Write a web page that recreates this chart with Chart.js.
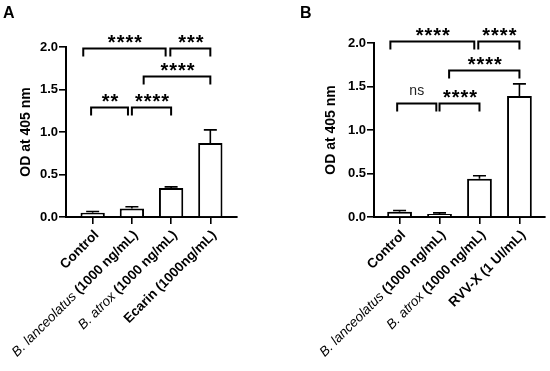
<!DOCTYPE html>
<html>
<head>
<meta charset="utf-8">
<script src="https://cdn.jsdelivr.net/npm/chart.js@4/dist/chart.umd.min.js"></script>
<style>
  html, body { margin: 0; padding: 0; background: #fff; }
  #wrap { width: 550px; height: 371px; display: flex; }
  .panel { width: 275px; height: 371px; }
</style>
</head>
<body>
<div id="wrap">
  <div class="panel"><canvas id="chartA" width="275" height="371"></canvas></div>
  <div class="panel"><canvas id="chartB" width="275" height="371"></canvas></div>
</div>
<script>
const FONT = "'Liberation Sans', Arial, sans-serif";

// panel A
const categoriesA = ["Control", "B. lanceolatus (1000 ng/mL)", "B. atrox (1000 ng/mL)", "Ecarin (1000ng/mL)"];
const meansA = [0.05, 0.10, 0.34, 0.87];
const errorsA = [0.015, 0.02, 0.015, 0.155];
// [from, to, height, text]
const bracketsA = [
  [-0.24, 1.86, 1.985, "****"],
  [1.98, 3.0, 1.985, "***"],
  [1.3, 3.0, 1.66, "****"],
  [-0.04, 0.9, 1.29, "**"],
  [1.0, 2.0, 1.29, "****"],
];

// panel B
const categoriesB = ["Control", "B. lanceolatus (1000 ng/mL)", "B. atrox (1000 ng/mL)", "RVV-X (1 UI/mL)"];
const meansB = [0.06, 0.035, 0.44, 1.39];
const errorsB = [0.015, 0.012, 0.035, 0.14];
const bracketsB = [
  [-0.23, 1.87, 2.02, "****"],
  [1.97, 3.0, 2.02, "****"],
  [1.24, 3.0, 1.685, "****"],
  [-0.06, 0.92, 1.31, "ns"],
  [1.0, 2.0, 1.31, "****"],
];

const yTicks = [0, 0.5, 1, 1.5, 2];

function splitLabel(text) {
  const m = text.match(/^(B\. \w+)(.*)$/);
  if (m) return [[m[1], "italic 13.5px " + FONT], [m[2], "bold 13.5px " + FONT]];
  return [[text, "bold 13.5px " + FONT]];
}

function buildChart(id, cfg) {
  const extras = {
    id: "extras",
    afterDatasetsDraw(chart) {
      const ctx = chart.ctx, xs = chart.scales.x, ys = chart.scales.y;
      ctx.save();
      ctx.strokeStyle = "#000";
      ctx.lineWidth = 1.6;
      cfg.means.forEach((v, i) => {
        const x = xs.getPixelForValue(i);
        const y0 = ys.getPixelForValue(v);
        const y1 = ys.getPixelForValue(v + cfg.errors[i]);
        ctx.beginPath();
        ctx.moveTo(x, y0);
        ctx.lineTo(x, y1);
        ctx.moveTo(x - 6.5, y1);
        ctx.lineTo(x + 6.5, y1);
        ctx.stroke();
      });
      ctx.restore();
    },
    afterDraw(chart) {
      const ctx = chart.ctx, xs = chart.scales.x, ys = chart.scales.y;
      ctx.save();
      ctx.fillStyle = "#000";
      ctx.strokeStyle = "#000";

      // significance brackets
      ctx.lineWidth = 2;
      cfg.brackets.forEach(([a, b, h, txt]) => {
        const x1 = xs.getPixelForValue(a), x2 = xs.getPixelForValue(b);
        const y = Math.round(ys.getPixelForValue(h)) + 0.5;
        ctx.beginPath();
        ctx.moveTo(x1, y + 8);
        ctx.lineTo(x1, y);
        ctx.lineTo(x2, y);
        ctx.lineTo(x2, y + 8);
        ctx.stroke();
        ctx.textAlign = "center";
        ctx.textBaseline = "alphabetic";
        if (txt === "ns") {
          ctx.font = "14px " + FONT;
          ctx.letterSpacing = "0px";
          ctx.fillStyle = "#222";
          ctx.fillText(txt, (x1 + x2) / 2, y - 9);
        } else {
          ctx.font = "bold 20px " + FONT;
          ctx.letterSpacing = "1px";
          ctx.fillStyle = "#000";
          ctx.fillText(txt, (x1 + x2) / 2 + 1, y);
        }
      });
      ctx.letterSpacing = "0px";
      ctx.fillStyle = "#000";

      // rotated category labels
      cfg.categories.forEach((c, i) => {
        const parts = splitLabel(c);
        let total = 0;
        parts.forEach(([t, f]) => { ctx.font = f; total += ctx.measureText(t).width; });
        ctx.save();
        ctx.translate(xs.getPixelForValue(i) + 4, chart.chartArea.bottom + 16);
        ctx.rotate(-Math.PI / 4);
        ctx.textAlign = "left";
        ctx.textBaseline = "middle";
        let x = -total;
        parts.forEach(([t, f]) => {
          ctx.font = f;
          ctx.fillText(t, x, 0);
          x += ctx.measureText(t).width;
        });
        ctx.restore();
      });

      // panel letter
      ctx.font = "bold 16px " + FONT;
      ctx.textAlign = "left";
      ctx.textBaseline = "alphabetic";
      ctx.fillText(cfg.letter, cfg.letterX, 18);
      ctx.restore();
    }
  };

  return new Chart(document.getElementById(id), {
    type: "bar",
    data: {
      datasets: [{
        data: cfg.means.map((v, i) => ({ x: i, y: v })),
        backgroundColor: "#fff",
        borderColor: "#000",
        borderWidth: 2,
        barPercentage: 0.62,
        categoryPercentage: 1,
      }],
    },
    options: {
      responsive: false,
      animation: false,
      layout: { padding: cfg.padding },
      plugins: { legend: { display: false }, tooltip: { enabled: false } },
      scales: {
        x: {
          type: "linear",
          offset: false,
          min: cfg.xMin,
          max: cfg.xMax,
          afterBuildTicks: (s) => { s.ticks = cfg.categories.map((c, i) => ({ value: i })); },
          afterFit: (s) => { s.height = 7; },
          ticks: { display: false },
          grid: { display: true, offset: false, drawOnChartArea: false, drawTicks: true, tickLength: 7, color: "#000", lineWidth: 1.6 },
          border: { display: true, color: "#000", width: 2 },
        },
        y: {
          min: 0,
          max: 2,
          afterBuildTicks: (s) => { s.ticks = yTicks.map((v) => ({ value: v })); },
          afterFit: (s) => { s.width = cfg.yWidth; },
          ticks: {
            padding: 1,
            color: "#000",
            font: { family: FONT, size: 13, weight: "bold" },
            callback: (v) => v.toFixed(1),
          },
          grid: { display: true, drawOnChartArea: false, drawTicks: true, tickLength: 7, color: "#000", lineWidth: 1.6 },
          border: { display: true, color: "#000", width: 2 },
          title: {
            display: true,
            text: "OD at 405 nm",
            color: "#000",
            font: { family: FONT, size: 14, weight: "bold" },
          },
        },
      },
    },
    plugins: [extras],
  });
}

buildChart("chartA", {
  categories: categoriesA, means: meansA, errors: errorsA, brackets: bracketsA,
  letter: "A", letterX: 3, xMin: -0.68, xMax: 3.68, yWidth: 52,
  padding: { left: 14, right: 38, top: 47, bottom: 147 },
});
buildChart("chartB", {
  categories: categoriesB, means: meansB, errors: errorsB, brackets: bracketsB,
  letter: "B", letterX: 25, xMin: -0.64, xMax: 3.64, yWidth: 55,
  padding: { left: 44, right: 5, top: 43, bottom: 147 },
});
</script>
</body>
</html>
